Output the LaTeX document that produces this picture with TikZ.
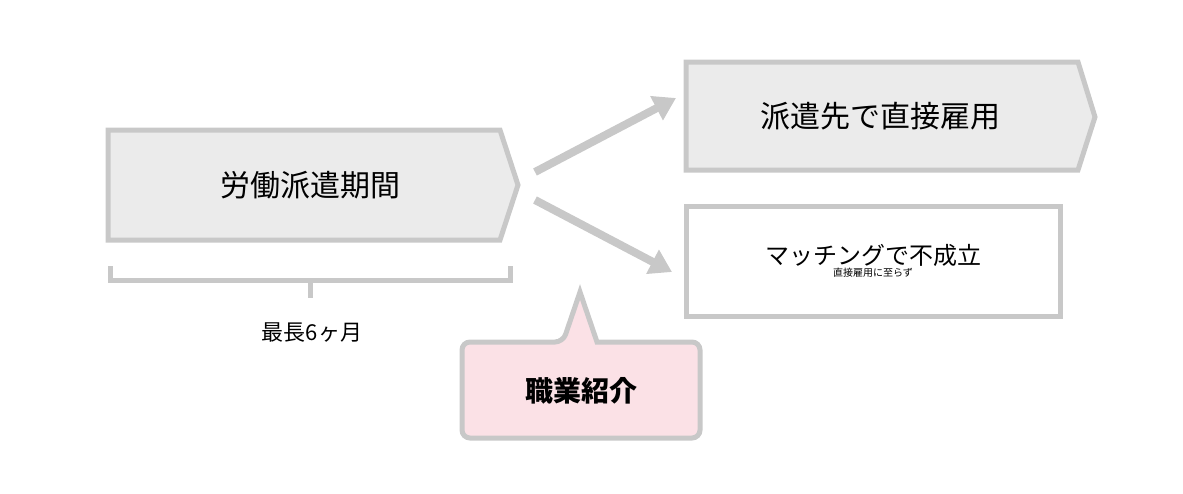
\documentclass[tikz,border=0pt]{standalone}
\usepackage{fontspec}
\setmainfont{Noto Sans CJK JP}
\usetikzlibrary{arrows.meta}
\definecolor{bd}{HTML}{C8C8C8}
\definecolor{fl}{HTML}{EBEBEB}
\definecolor{pk}{HTML}{FBE1E6}
\begin{document}
\begin{tikzpicture}[x=1pt,y=-1pt,
  shp/.style={draw=bd,line width=5pt,line join=miter},
  arr/.style={draw=bd,line width=8pt,-{Triangle[length=22pt,width=26pt]}}]
\useasboundingbox (0,0) rectangle (1183,493);
\draw[shp,fill=fl] (108,130) -- (500,130) -- (518,185) -- (500,240) -- (108,240) -- cycle;
\node (a) at (310,185) {\fontsize{30}{36}\selectfont 労働派遣期間};
\draw[shp,fill=fl] (686,62) -- (1078,62) -- (1095,117) -- (1078,170) -- (686,170) -- cycle;
\node (b) at (880,116) {\fontsize{30}{36}\selectfont 派遣先で直接雇用};
\draw[shp,fill=white] (686,206) rectangle (1060,316);
\node[align=center] (c) at (873,261) {\fontsize{24}{34}\selectfont マッチングで不成立\\直接雇用に至らず};
\coordinate (s1) at (535,172); \coordinate (e1) at (676,98);
\coordinate (s2) at (535,200); \coordinate (e2) at (672,272);
\draw[arr] (s1) -- (e1);
\draw[arr] (s2) -- (e2);
\draw[draw=bd,line width=5pt] (110,266) -- (110,280) -- (510,280) -- (510,266);
\draw[draw=bd,line width=5pt] (310,280) -- (310,298);
\node (d) at (312,333) {\fontsize{22}{26}\selectfont 最長6ヶ月};
\draw[shp,fill=pk,rounded corners=8pt] (462,342) -- (563,342) [sharp corners] -- (580,292) -- (597,342) [rounded corners=8pt] -- (700,342) -- (700,438) -- (462,438) -- cycle;
\node (e) at (581,391) {\fontsize{28}{32}\selectfont\bfseries 職業紹介};
\end{tikzpicture}
\end{document}
